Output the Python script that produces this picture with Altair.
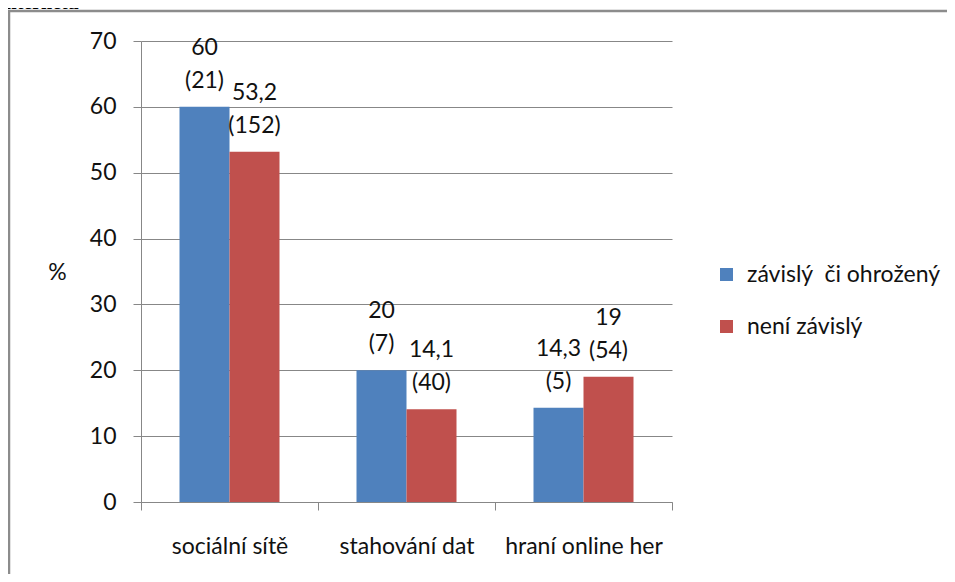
import altair as alt
import pandas as pd

categories = ["sociální sítě", "stahování dat", "hraní online her"]
series = ["závislý\u00a0 či ohrožený", "není závislý"]
dependent_pct = [60, 20, 14.3]
dependent_n = [21, 7, 5]
independent_pct = [53.2, 14.1, 19]
independent_n = [152, 40, 54]
y_ticks = [0, 10, 20, 30, 40, 50, 60, 70]
colors = ["#4F81BD", "#C0504D"]
heading = "internetu"

rows = []
for s, pcts, ns in [(series[0], dependent_pct, dependent_n), (series[1], independent_pct, independent_n)]:
    for c, p, n in zip(categories, pcts, ns):
        rows.append({
            "category": c,
            "series": s,
            "pct": p,
            "top": f"{p:g}".replace(".", ","),
            "bottom": f"({n})",
        })
df = pd.DataFrame(rows)

FONT = "Lato"
FS = 23
GRAY = "#878787"
INK = "#111111"

x_enc = alt.X(
    "category:N",
    sort=categories,
    scale=alt.Scale(paddingInner=0, paddingOuter=0),
    axis=alt.Axis(
        title=None, tickBand="extent", tickSize=8, labelPadding=43, labelAngle=0,
        labelBaseline="alphabetic",
        grid=False, labelFontSize=FS, labelFont=FONT, labelColor=INK,
        domainColor=GRAY, tickColor=GRAY, labelLimit=300,
    ),
)
xo_enc = alt.XOffset("series:N", sort=series, scale=alt.Scale(paddingInner=0, paddingOuter=0.77))
y_enc = alt.Y(
    "pct:Q",
    scale=alt.Scale(domain=[0, 70], nice=False),
    axis=alt.Axis(
        values=y_ticks, title="%", titleAngle=0, titleX=-84, titleY=231,
        titleAlign="center", titleBaseline="middle", titleFontSize=FS,
        titleFontWeight="normal", titleFont=FONT, titleColor=INK,
        tickSize=8, labelPadding=17, labelFontSize=FS, labelFont=FONT,
        labelColor=INK, grid=True, gridColor=GRAY, domainColor=GRAY,
        tickColor=GRAY,
    ),
)

base = alt.Chart(df).encode(x=x_enc, xOffset=xo_enc)

bars = base.mark_bar().encode(
    y=y_enc,
    color=alt.Color(
        "series:N",
        sort=series,
        scale=alt.Scale(domain=series, range=colors),
        legend=alt.Legend(
            orient="none", legendX=574, legendY=222, title=None,
            symbolType="square", symbolSize=169, symbolStrokeWidth=0,
            labelFontSize=FS, labelFont=FONT, labelColor=INK,
            rowPadding=28, labelOffset=9, padding=0, labelLimit=400,
        ),
    ),
)

lbl_bottom = base.mark_text(baseline="alphabetic", dy=-19, fontSize=FS, font=FONT, color=INK).encode(
    y="pct:Q", text="bottom:N"
)
lbl_top = base.mark_text(baseline="alphabetic", dy=-52, fontSize=FS, font=FONT, color=INK).encode(
    y="pct:Q", text="top:N"
)

frame = alt.Chart(alt.Data(values=[{}])).mark_rect(
    filled=False, stroke="#8C8C8C", strokeWidth=2.5
).encode(
    x=alt.value(-132), x2=alt.value(820), y=alt.value(-30), y2=alt.value(700)
)

head = alt.Chart(alt.Data(values=[{"t": heading}])).mark_text(
    align="left", baseline="alphabetic", fontSize=20, font="Liberation Serif",
    fontWeight="bold", color="#000000"
).encode(x=alt.value(-141), y=alt.value(-32), text="t:N")

chart = alt.layer(frame, bars, lbl_bottom, lbl_top, head).properties(
    width=531,
    height=461,
    padding={"left": 133, "top": 33, "right": 275, "bottom": 72},
    autosize=alt.AutoSizeParams(type="none"),
).configure_view(strokeWidth=0)

chart.save("out.html", embed_options={"renderer": "svg", "actions": False})
